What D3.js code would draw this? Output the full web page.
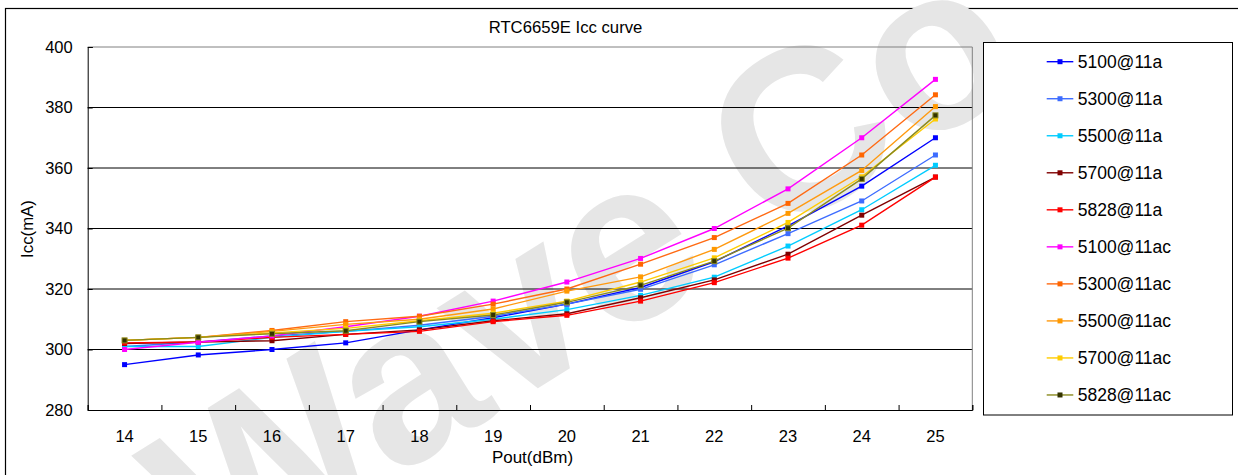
<!DOCTYPE html>
<html>
<head>
<meta charset="utf-8">
<script src="https://cdn.jsdelivr.net/npm/d3@7"></script>
<style>
  body { margin: 0; background: #fff; }
  text { font-family: "Liberation Sans", Arial, sans-serif; }
</style>
</head>
<body>
<svg id="chart" width="1238" height="475"></svg>
<script>
// chart data
let pout = ['14', '15', '16', '17', '18', '19', '20', '21', '22', '23', '24', '25'];
let yTicks = [280, 300, 320, 340, 360, 380, 400];

let icc_5100_11a = [295, 298.2, 300, 302.2, 306.5, 310.5, 315, 320.5, 329, 340.9, 354, 370];
let icc_5300_11a = [301, 302.5, 304.5, 306, 308, 311, 315, 319.9, 328, 338.3, 349.1, 364.3];
let icc_5500_11a = [301, 301, 304, 306, 307.5, 310, 313.2, 317.9, 323.9, 334.2, 346.2, 360.9];
let icc_5700_11a = [302, 302.5, 302.9, 305, 306.5, 309.5, 311.8, 317.1, 323, 331.5, 344.4, 357];
let icc_5828_11a = [302.2, 302.5, 304, 305, 306, 309.2, 311.3, 316, 322.1, 330.2, 341.1, 357];
let icc_5100_11ac = [300, 302.4, 304.5, 307.5, 311, 316, 322.3, 330.1, 340, 353.1, 370, 389.3];
let icc_5300_11ac = [303, 304, 306.3, 309.2, 311, 315, 320, 328.2, 337, 348.3, 364.3, 384.2];
let icc_5500_11ac = [303, 304, 306, 308.3, 310, 313.4, 319.3, 324, 333.1, 345, 359.2, 380.3];
let icc_5700_11ac = [303, 304, 305.5, 307, 309.5, 312, 316, 322.3, 330.3, 342, 357.1, 376.2];
let icc_5828_11ac = [303, 304, 305.2, 306.2, 309.2, 311.4, 315.6, 321.2, 329.2, 340.1, 356.4, 377.4];

let seriesNames = ['5100@11a', '5300@11a', '5500@11a', '5700@11a', '5828@11a',
                   '5100@11ac', '5300@11ac', '5500@11ac', '5700@11ac', '5828@11ac'];
let seriesValues = [icc_5100_11a, icc_5300_11a, icc_5500_11a, icc_5700_11a, icc_5828_11a,
                    icc_5100_11ac, icc_5300_11ac, icc_5500_11ac, icc_5700_11ac, icc_5828_11ac];

let lineColors = ['#0000ff', '#3d6cff', '#00ccff', '#800000', '#ff0000',
                  '#ff00ff', '#ff6a13', '#ff9a10', '#ffcc00', '#8a8a1e'];
let markColors = ['#0000ff', '#3d6cff', '#00ccff', '#800000', '#ff0000',
                  '#ff00ff', '#ff6600', '#ff9900', '#ffcc00', '#333300'];

let plotLeft = 87.7, plotRight = 972.3, plotTop = 47, plotBottom = 410;

let svg = d3.select('#chart');

// outer chart frame
svg.append('rect')
    .attr('x', 5.5).attr('y', 8.5)
    .attr('width', 1300).attr('height', 600)
    .attr('fill', '#fff')
    .attr('stroke', '#000')
    .attr('stroke-width', 1.2);

// watermark
svg.append('text')
    .attr('transform', 'translate(215,590) rotate(-32)')
    .attr('font-size', '230px')
    .attr('font-weight', 'bold')
    .attr('fill', '#e6e6e6')
    .text('Wave Co');

let x = d3.scaleBand().domain(pout).range([plotLeft, plotRight]);
let xEdge = d3.scaleLinear().domain([0, pout.length]).range([plotLeft, plotRight]);
let y = d3.scaleLinear().domain([280, 400]).range([plotBottom, plotTop]);

// grid lines
svg.append('g')
    .selectAll('line')
    .data(yTicks.slice(1, -1))
    .join('line')
    .attr('x1', plotLeft).attr('x2', plotRight)
    .attr('y1', d => y(d)).attr('y2', d => y(d))
    .attr('stroke', '#000')
    .attr('stroke-width', 1);

// plot area border (top & right)
svg.append('path')
    .attr('d', 'M' + plotLeft + ',' + y(400) + 'H' + plotRight + 'V' + plotBottom)
    .attr('fill', 'none')
    .attr('stroke', '#808080')
    .attr('stroke-width', 1);

// y axis
let yAxis = svg.append('g')
    .attr('transform', 'translate(' + plotLeft + ',0)')
    .call(d3.axisLeft(y).tickValues(yTicks).tickSize(-5).tickPadding(15));
yAxis.select('.domain').attr('stroke', '#000');
yAxis.selectAll('text')
    .attr('font-size', '16.5px')
    .attr('fill', '#000')
    .attr('font-family', '"Liberation Sans", Arial, sans-serif');

// x axis: ticks on category edges, labels on centers
let xTickAxis = svg.append('g')
    .attr('transform', 'translate(0,' + plotBottom + ')')
    .call(d3.axisBottom(xEdge).ticks(pout.length).tickSize(-5).tickFormat(''));
xTickAxis.select('.domain').attr('stroke', '#000');

svg.append('g')
    .selectAll('text')
    .data(pout)
    .join('text')
    .attr('x', d => x(d) + x.bandwidth() / 2)
    .attr('y', 441.5)
    .attr('text-anchor', 'middle')
    .attr('font-size', '16.5px')
    .text(d => d);

// titles
svg.append('text')
    .attr('x', 565.5).attr('y', 32.7)
    .attr('text-anchor', 'middle')
    .attr('font-size', '16.7px')
    .text('RTC6659E Icc curve');

svg.append('text')
    .attr('x', 532.5).attr('y', 463.3)
    .attr('text-anchor', 'middle')
    .attr('font-size', '17px')
    .text('Pout(dBm)');

svg.append('text')
    .attr('transform', 'translate(33,229) rotate(-90)')
    .attr('text-anchor', 'middle')
    .attr('font-size', '16.8px')
    .text('Icc(mA)');

// series lines
let line = d3.line()
    .x((d, i) => x(pout[i]) + x.bandwidth() / 2)
    .y(d => y(d));

let groups = svg.append('g')
    .selectAll('.series_g')
    .data(seriesValues)
    .join('g')
    .attr('class', 'series_g');

groups.append('path')
    .attr('d', d => line(d))
    .attr('fill', 'none')
    .attr('stroke', (d, i) => lineColors[i])
    .attr('stroke-width', 1.4);

groups.each(function (vals, si) {
    d3.select(this)
        .selectAll('rect')
        .data(vals)
        .join('rect')
        .attr('x', (d, i) => x(pout[i]) + x.bandwidth() / 2 - 2.5)
        .attr('y', d => y(d) - 2.5)
        .attr('width', 5).attr('height', 5)
        .attr('fill', markColors[si])
        .attr('stroke', lineColors[si])
        .attr('stroke-width', si == 9 ? 1 : 0);
});

// legend
svg.append('rect')
    .attr('x', 983.5).attr('y', 42.5)
    .attr('width', 249).attr('height', 372.5)
    .attr('fill', '#fff')
    .attr('stroke', '#000')
    .attr('stroke-width', 1);

let legend = svg.append('g')
    .selectAll('.legend_g')
    .data(seriesNames)
    .join('g')
    .attr('class', 'legend_g')
    .attr('transform', (d, i) => 'translate(0,' + (61.7 + i * 37.03) + ')');

legend.append('line')
    .attr('x1', 1046.7).attr('x2', 1073.3)
    .attr('stroke', (d, i) => lineColors[i])
    .attr('stroke-width', 1.4);

legend.append('rect')
    .attr('x', 1057.5).attr('y', -2.5)
    .attr('width', 5).attr('height', 5)
    .attr('fill', (d, i) => markColors[i]);

legend.append('text')
    .attr('x', 1077.7).attr('y', 6.3)
    .attr('font-size', '17.5px')
    .text(d => d);
</script>
</body>
</html>
